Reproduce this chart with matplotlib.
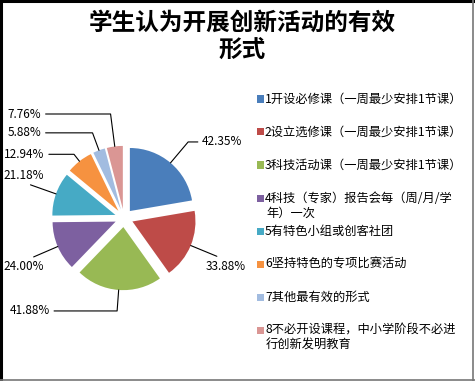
import numpy as np
import matplotlib.pyplot as plt
from matplotlib.patches import Rectangle
from matplotlib.lines import Line2D

plt.rcParams['font.family'] = ['Noto Sans CJK SC', 'DejaVu Sans']

# data
categories = ['1开设必修课（一周最少安排1节课）',
              '2设立选修课（一周最少安排1节课）',
              '3科技活动课（一周最少安排1节课）',
              '4科技（专家）报告会每（周/月/学\n年）一次',
              '5有特色小组或创客社团',
              '6坚持特色的专项比赛活动',
              '7其他最有效的形式',
              '8不必开设课程，中小学阶段不必进\n行创新发明教育']
values = [42.35, 33.88, 41.88, 24.00, 21.18, 12.94, 5.88, 7.76]
colors = ['#4A7EBB', '#BE4B48', '#98B954', '#7D60A0',
          '#46AAC5', '#F69240', '#A2BCE0', '#DA9694']

W, H = 475, 381
fig = plt.figure(figsize=(W / 100, H / 100), dpi=100)

# pie axes: center (124, 218) px from top, 1 data unit ~65 px
cx, cy, r = 124, 218, 65
span = 1.9
ax = fig.add_axes([(cx - span * r) / W, (H - cy - span * r) / H,
                   2 * span * r / W, 2 * span * r / H])

ex = 0.14
explode = [ex] * len(values)
wedges, _ = ax.pie(values, colors=colors, startangle=90, counterclock=False,
                   explode=explode, radius=0.97,
                   wedgeprops=dict(linewidth=0))
ax.set_xlim(-span, span)
ax.set_ylim(-span, span)
ax.axis('off')

# label text positions (data units)
label_xy = [(1.20, 1.17), (1.25, -0.74), (-1.14, -1.43), (-1.23, -0.75),
            (-1.23, 0.66), (-1.22, 0.98), (-1.27, 1.31), (-1.27, 1.60)]
for w, v, (tx, ty) in zip(wedges, values, label_xy):
    ang = np.deg2rad((w.theta1 + w.theta2) / 2)
    px, py = (0.97 + ex) * np.cos(ang), (0.97 + ex) * np.sin(ang)
    ha = 'left' if tx > 0 else 'right'
    ax.annotate('%.2f%%' % v, xy=(px, py), xytext=(tx, ty),
                ha=ha, va='center', fontsize=8.5,
                arrowprops=dict(arrowstyle='-', color='black', lw=0.8,
                                shrinkA=1, shrinkB=0,
                                connectionstyle='angle,angleA=0,angleB=%f,rad=0'
                                % np.rad2deg(ang)))

# title
fig.text(242 / W, 1 - 36 / H, '学生认为开展创新活动的有效\n形式', ha='center',
         va='center', fontsize=17, fontweight='bold', linespacing=1.15)

# legend drawn by hand
ly0, step = 99, 33
for i, (cat, c) in enumerate(zip(categories, colors)):
    y = ly0 + i * step
    fig.patches.append(Rectangle((257 / W, 1 - (y + 3.5) / H), 7 / W, 7 / H,
                                 transform=fig.transFigure, facecolor=c,
                                 edgecolor='none'))
    for j, ln in enumerate(cat.split('\n')):
        fig.text((265 if j == 0 else 266) / W, 1 - (y + j * 15) / H, ln,
                 ha='left', va='center', fontsize=8.8)

# frame around the picture
fig.add_artist(Line2D([1 / W, 1 / W], [0, 1], color='black', lw=2.2,
                      transform=fig.transFigure))
fig.add_artist(Line2D([0, 1], [1 - 1 / H, 1 - 1 / H], color='black', lw=2.2,
                      transform=fig.transFigure))
fig.add_artist(Line2D([1 - 2 / W, 1 - 2 / W], [0, 1], color='#777777', lw=1.2,
                      transform=fig.transFigure))
fig.add_artist(Line2D([0, 1], [1.5 / H, 1.5 / H], color='#777777', lw=1.2,
                      transform=fig.transFigure))

fig.savefig('out.png', dpi=100)
